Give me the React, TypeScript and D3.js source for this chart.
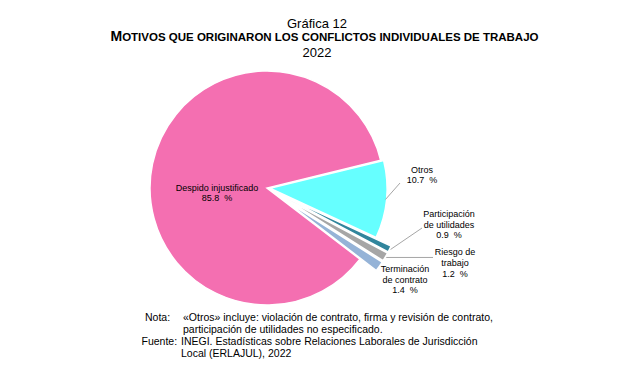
import React from "react";
import * as d3 from "d3";

const categories = ["Otros", "Participación de utilidades", "Riesgo de trabajo", "Terminación de contrato", "Despido injustificado"];
const values = [10.7, 0.9, 1.2, 1.4, 85.8];
const labelLines = [["Otros"], ["Participación", "de utilidades"], ["Riesgo de", "trabajo"], ["Terminación", "de contrato"], ["Despido injustificado"]];
const colors = ["#66FFFF", "#31859C", "#A6A6A6", "#95B3D7", "#F46FB1"];
const explode = [3, 20, 20, 20, 0];
const titleLines = ["Gráfica 12", "MOTIVOS QUE ORIGINARON LOS CONFLICTOS INDIVIDUALES DE TRABAJO", "2022"];
const noteLines = ["«Otros» incluye: violación de contrato, firma y revisión de contrato,", "participación de utilidades no especificado."];
const sourceLines = ["INEGI. Estadísticas sobre Relaciones Laborales de Jurisdicción", "Local (ERLAJUL), 2022"];

const W = 634, H = 375;
const cx = 267, cy = 188, R = 117;
const FONT = "'Liberation Sans', Arial, sans-serif";

// label anchor centers (x, first baseline) per slice
const labelPos: [number, number][] = [[422, 172.5], [449, 216.7], [455, 255], [405, 271.7], [217, 191]];

export default function App() {
  const pie = d3.pie<number>().sort(null).value(d => d)
    .startAngle((76.3 * Math.PI) / 180)
    .endAngle((76.3 * Math.PI) / 180 + 2 * Math.PI);
  const arcs = pie(values);
  const arcGen = d3.arc<d3.PieArcDatum<number>>().innerRadius(0).outerRadius(R);
  const fmt = d3.format(".1f");

  const offs = arcs.map((a, i) => {
    const m = (a.startAngle + a.endAngle) / 2;
    return [Math.sin(m) * explode[i], -Math.cos(m) * explode[i]];
  });
  const outerPt = (i: number, r: number) => {
    const a = arcs[i];
    const m = (a.startAngle + a.endAngle) / 2;
    return [cx + offs[i][0] + Math.sin(m) * r, cy + offs[i][1] - Math.cos(m) * r];
  };

  const p0 = outerPt(0, R - 1);
  const p1 = outerPt(1, R + 1);
  const p2 = outerPt(2, R + 1);
  const leaders = [
    [p0, [400, 183]],
    [p1, [422, 228]],
    [p2, [433, p2[1]]],
  ];

  return (
    <svg width={W} height={H} style={{ position: "absolute", left: 0, top: 0, background: "#fff" }} fontFamily={FONT}>
      <text x={317} y={27.5} textAnchor="middle" fontSize={13} fill="#000">{titleLines[0]}</text>
      <text x={324.5} y={40.5} textAnchor="middle" fontSize={11.5} fontWeight="bold" fill="#000">
        <tspan fontSize={14}>{titleLines[1][0]}</tspan>{titleLines[1].slice(1)}
      </text>
      <text x={317} y={56.5} textAnchor="middle" fontSize={13} fill="#000">{titleLines[2]}</text>

      <g>
        {arcs.map((a, i) => (
          <path key={i} d={arcGen(a) || ""} fill={colors[i]} stroke="#fff" strokeWidth={1.5}
            transform={`translate(${cx + offs[i][0]},${cy + offs[i][1]})`} />
        ))}
      </g>

      {leaders.map((l, i) => (
        <line key={i} x1={l[0][0]} y1={l[0][1]} x2={l[1][0]} y2={l[1][1]} stroke="#A6A6A6" strokeWidth={1} />
      ))}

      {arcs.map((a, i) => {
        const [lx, ly] = labelPos[i];
        const lines = [...labelLines[i], `${fmt(values[i])}  %`];
        return (
          <text key={i} textAnchor="middle" fontSize={9} fill="#000" style={{ whiteSpace: "pre" }}>
            {lines.map((t, j) => (
              <tspan key={j} x={lx} y={ly + j * (i === 4 ? 10 : 10.8)}>{t}</tspan>
            ))}
          </text>
        );
      })}

      <g fontSize={10.5} fill="#000">
        <text x={145} y={320.5}>Nota:</text>
        <text x={183} y={320.5}>{noteLines[0]}</text>
        <text x={183} y={332.5}>{noteLines[1]}</text>
        <text x={141.5} y={344.5}>Fuente:</text>
        <text x={181} y={344.5}>{sourceLines[0]}</text>
        <text x={181} y={356.5}>{sourceLines[1]}</text>
      </g>
    </svg>
  );
}
